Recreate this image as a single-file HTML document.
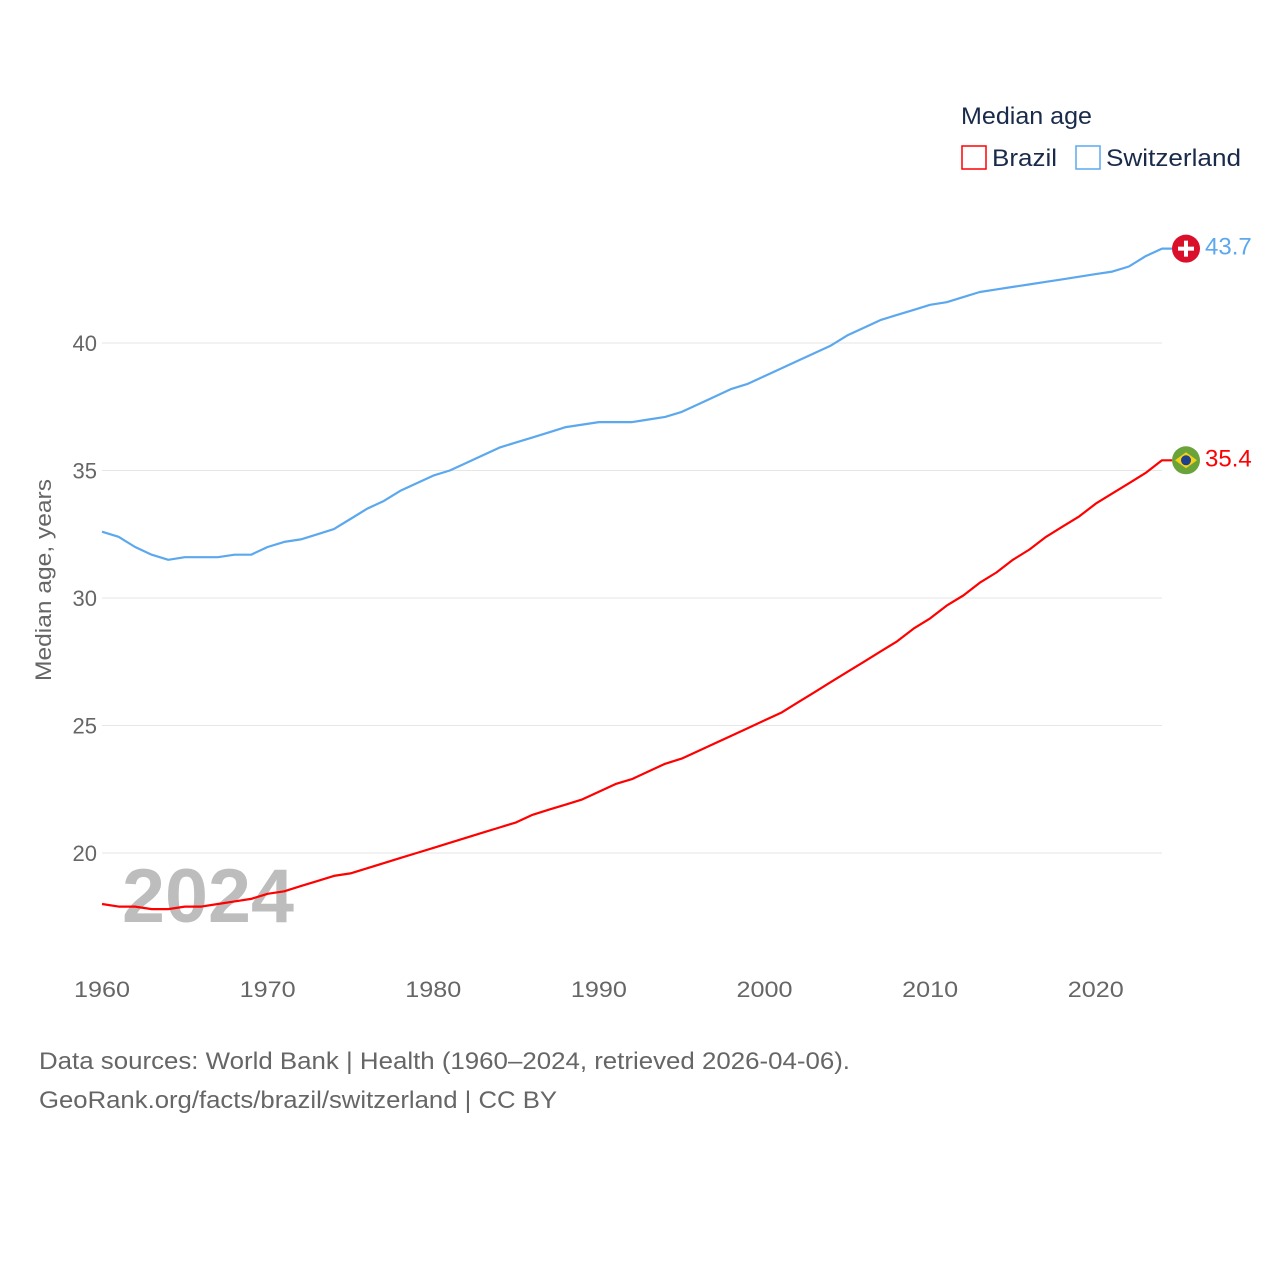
<!DOCTYPE html>
<html><head><meta charset="utf-8"><style>
html,body{margin:0;padding:0;background:#fff;}
svg text{font-family:"Liberation Sans",sans-serif;}
</style></head><body>
<svg id="chart" width="1280" height="1280" viewBox="0 0 1280 1280" xmlns="http://www.w3.org/2000/svg">
<rect width="1280" height="1280" fill="#fff"/>
<g id="grid"></g>
<g id="yticks"></g>
<g id="xticks"></g>
<text x="122" y="922" font-size="76" font-weight="bold" fill="#bdbdbd" textLength="172" lengthAdjust="spacingAndGlyphs">2024</text>
<g id="lines"></g>
<text transform="translate(51,580) rotate(-90)" text-anchor="middle" font-size="22" fill="#666" textLength="202" lengthAdjust="spacingAndGlyphs">Median age, years</text>
<g>
<text x="961" y="124" font-size="24" fill="#1a2a4a" textLength="131" lengthAdjust="spacingAndGlyphs">Median age</text>
<rect x="962" y="146" width="24" height="23" fill="none" stroke="#ff0000" stroke-width="1.5"/>
<text x="992" y="166" font-size="24" fill="#1a2a4a" textLength="65" lengthAdjust="spacingAndGlyphs">Brazil</text>
<rect x="1076" y="146" width="24" height="23" fill="none" stroke="#5ca8ee" stroke-width="1.5"/>
<text x="1106" y="166" font-size="24" fill="#1a2a4a" textLength="135" lengthAdjust="spacingAndGlyphs">Switzerland</text>
</g>
<text x="39" y="1069" font-size="24" fill="#666" textLength="811" lengthAdjust="spacingAndGlyphs">Data sources: World Bank | Health (1960–2024, retrieved 2026-04-06).</text>
<text x="39" y="1108" font-size="24" fill="#666" textLength="518" lengthAdjust="spacingAndGlyphs">GeoRank.org/facts/brazil/switzerland | CC BY</text>
</svg>
<script>
const years=[];for(let y=1960;y<=2024;y++)years.push(y);
const switzerland=[32.6,32.4,32.0,31.7,31.5,31.6,31.6,31.6,31.7,31.7,32.0,32.2,32.3,32.5,32.7,33.1,33.5,33.8,34.2,34.5,34.8,35.0,35.3,35.6,35.9,36.1,36.3,36.5,36.7,36.8,36.9,36.9,36.9,37.0,37.1,37.3,37.6,37.9,38.2,38.4,38.7,39.0,39.3,39.6,39.9,40.3,40.6,40.9,41.1,41.3,41.5,41.6,41.8,42.0,42.1,42.2,42.3,42.4,42.5,42.6,42.7,42.8,43.0,43.4,43.7];
const brazil=[18.0,17.9,17.9,17.8,17.8,17.9,17.9,18.0,18.1,18.2,18.4,18.5,18.7,18.9,19.1,19.2,19.4,19.6,19.8,20.0,20.2,20.4,20.6,20.8,21.0,21.2,21.5,21.7,21.9,22.1,22.4,22.7,22.9,23.2,23.5,23.7,24.0,24.3,24.6,24.9,25.2,25.5,25.9,26.3,26.7,27.1,27.5,27.9,28.3,28.8,29.2,29.7,30.1,30.6,31.0,31.5,31.9,32.4,32.8,33.2,33.7,34.1,34.5,34.9,35.4];
const yTicks=[20,25,30,35,40];
const xTicks=[1960,1970,1980,1990,2000,2010,2020];
const NS="http://www.w3.org/2000/svg";
const X=v=>102+(v-1960)*(1162-102)/64;
const Y=v=>853-(v-20)*25.5;
function mk(tag,attrs,parent,txt){const e=document.createElementNS(NS,tag);for(const k in attrs)e.setAttribute(k,attrs[k]);if(txt!=null)e.textContent=txt;parent.appendChild(e);return e;}
const grid=document.getElementById('grid'),yt=document.getElementById('yticks'),xt=document.getElementById('xticks'),lines=document.getElementById('lines');
yTicks.forEach(t=>{
 const l=mk('line',{x1:102,x2:1162,y1:Y(t),y2:Y(t),stroke:'#e6e6e6','stroke-width':1},grid);
 
 
 const tx=mk('text',{x:97,y:Y(t)+8,'text-anchor':'end','font-size':22,fill:'#666'},yt,t);
 
 
});
xTicks.forEach(t=>{
 const tx=mk('text',{x:X(t),y:997,'text-anchor':'middle','font-size':22,fill:'#666',textLength:56,lengthAdjust:'spacingAndGlyphs'},xt,t);
 
 
});
function series(vals,color,name){
 let d=vals.map((v,i)=>(i?'L':'M')+X(years[i]).toFixed(1)+','+Y(v).toFixed(1)).join(' ');
 const last=vals[vals.length-1],ly=Y(last),lx=X(years[years.length-1]);
 d+=' L'+(lx+10)+','+ly.toFixed(1);
 const p=mk('path',{d:d,fill:'none',stroke:color,'stroke-width':2.2,'stroke-linejoin':'round'},lines);
 
 
 return {ly,lx,last};
}
const s=series(switzerland,'#5ca8ee','switzerland');
const b=series(brazil,'#ff0000','brazil');
const sf=mk('g',{},lines);


mk('circle',{cx:1186,cy:s.ly,r:14,fill:'#da0f2a'},sf);
mk('rect',{x:1184,y:s.ly-8,width:4,height:16,fill:'#fff'},sf);
mk('rect',{x:1178,y:s.ly-2,width:16,height:4,fill:'#fff'},sf);
const sl=mk('text',{x:1205,y:s.ly+6,'font-size':24,fill:'#5ca8ee'},lines,s.last.toFixed(1));


const bf=mk('g',{},lines);


mk('circle',{cx:1186,cy:b.ly,r:14,fill:'#6aa33a'},bf);
mk('polygon',{points:`1175,${b.ly} 1186,${b.ly-8} 1197,${b.ly} 1186,${b.ly+8}`,fill:'#f7d117'},bf);
mk('circle',{cx:1186,cy:b.ly,r:5,fill:'#1f3f8f'},bf);
const bl=mk('text',{x:1205,y:b.ly+6,'font-size':24,fill:'#ff0000'},lines,b.last.toFixed(1));


</script>
</body></html>
